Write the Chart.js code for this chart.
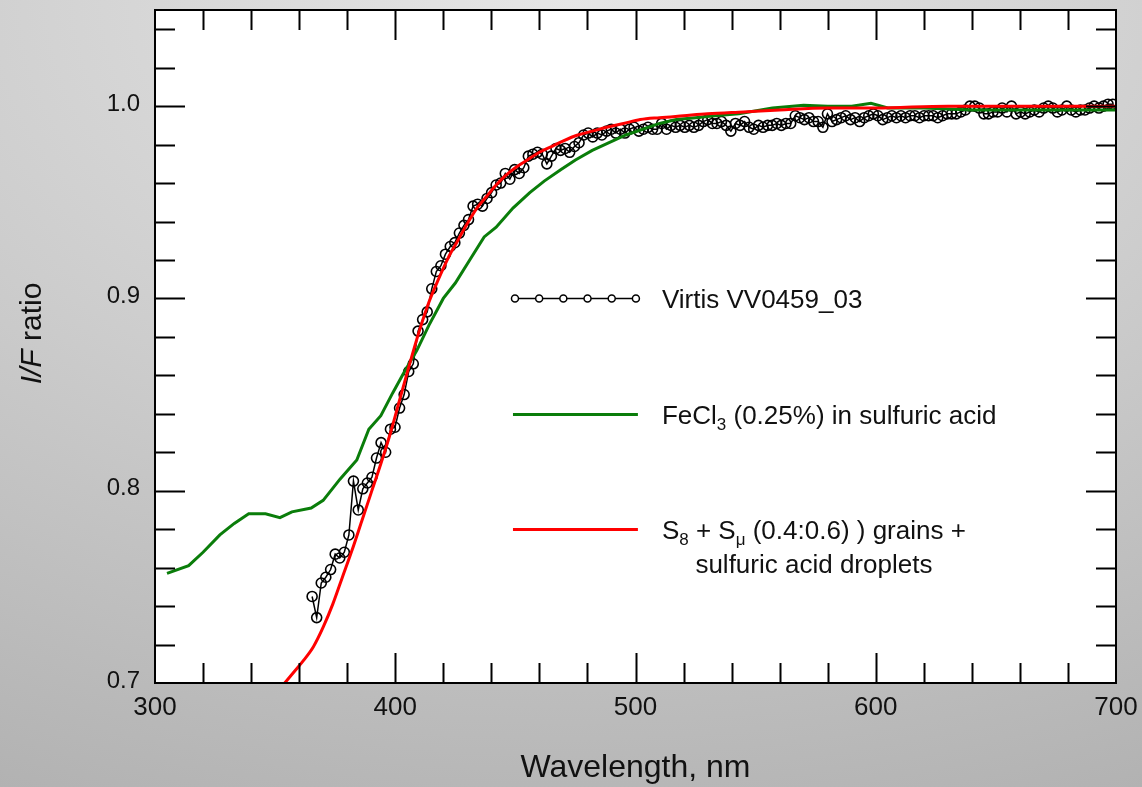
<!DOCTYPE html>
<html lang="en">
<head>
<meta charset="UTF-8">
<title>I/F ratio vs wavelength</title>
<script src="https://cdn.jsdelivr.net/npm/chart.js"></script>
<style>
  html, body {
    margin: 0;
    padding: 0;
    width: 1142px;
    height: 787px;
    overflow: hidden;
    background: radial-gradient(ellipse 120% 110% at 50% 0%, #e6e6e6 0%, #cdcdcd 50%, #b2b2b2 100%);
  }
  #chart { display: block; }
</style>
</head>
<body>
<canvas id="chart" width="1142" height="787"></canvas>
<script>
// Virtis VV0459_03 spectrum (nm, I/F ratio)
const virtisWl = [
  365.4, 367.3, 369.2, 371.1, 373.1, 375.0, 376.9, 378.8, 380.7, 382.6,
  384.6, 386.5, 388.4, 390.3, 392.2, 394.1, 396.0, 398.0, 399.9, 401.8,
  403.7, 405.6, 407.5, 409.5, 411.4, 413.3, 415.2, 417.1, 419.0, 420.9,
  422.9, 424.8, 426.7, 428.6, 430.5, 432.4, 434.3, 436.3, 438.2, 440.1,
  442.0, 443.9, 445.8, 447.7, 449.7, 451.6, 453.5, 455.4, 457.3, 459.2,
  461.2, 463.1, 465.0, 466.9, 468.8, 470.7, 472.6, 474.6, 476.5, 478.4,
  480.3, 482.2, 484.1, 486.0, 488.0, 489.9, 491.8, 493.7, 495.6, 497.5,
  499.4, 501.4, 503.3, 505.2, 507.1, 509.0, 510.9, 512.9, 514.8, 516.7,
  518.6, 520.5, 522.4, 524.3, 526.3, 528.2, 530.1, 532.0, 533.9, 535.8,
  537.7, 539.7, 541.6, 543.5, 545.4, 547.3, 549.2, 551.2, 553.1, 555.0,
  556.9, 558.8, 560.7, 562.6, 564.6, 566.5, 568.4, 570.3, 572.2, 574.1,
  576.0, 578.0, 579.9, 581.8, 583.7, 585.6, 587.5, 589.5, 591.4, 593.3,
  595.2, 597.1, 599.0, 600.9, 602.9, 604.8, 606.7, 608.6, 610.5, 612.4,
  614.3, 616.3, 618.2, 620.1, 622.0, 623.9, 625.8, 627.8, 629.7, 631.6,
  633.5, 635.4, 637.3, 639.2, 641.2, 643.1, 645.0, 646.9, 648.8, 650.7,
  652.6, 654.6, 656.5, 658.4, 660.3, 662.2, 664.1, 666.0, 668.0, 669.9,
  671.8, 673.7, 675.6, 677.5, 679.5, 681.4, 683.3, 685.2, 687.1, 689.0,
  690.9, 692.9, 694.8, 696.7, 698.6
];
const virtisIF = [
  0.745, 0.734, 0.752, 0.755, 0.759, 0.767, 0.765, 0.768, 0.777, 0.805,
  0.790, 0.801, 0.804, 0.807, 0.817, 0.825, 0.820, 0.832, 0.833, 0.843,
  0.850, 0.862, 0.866, 0.883, 0.889, 0.893, 0.905, 0.914, 0.917, 0.923,
  0.927, 0.929, 0.934, 0.938, 0.941, 0.948, 0.949, 0.948, 0.952, 0.955,
  0.959, 0.960, 0.965, 0.962, 0.967, 0.965, 0.968, 0.974, 0.975, 0.976,
  0.975, 0.970, 0.974, 0.978, 0.977, 0.978, 0.976, 0.979, 0.981, 0.985,
  0.986, 0.984, 0.986, 0.985, 0.987, 0.988, 0.986, 0.988, 0.986, 0.988,
  0.989, 0.987, 0.988, 0.989, 0.988, 0.988, 0.991, 0.988, 0.990, 0.989,
  0.990, 0.989, 0.990, 0.989, 0.990, 0.992, 0.993, 0.991, 0.991, 0.992,
  0.990, 0.987, 0.991, 0.990, 0.992, 0.989, 0.988, 0.990, 0.989, 0.990,
  0.990, 0.991, 0.990, 0.991, 0.991, 0.995, 0.994, 0.993, 0.994, 0.992,
  0.992, 0.989, 0.996, 0.992, 0.993, 0.994, 0.995, 0.993, 0.994, 0.992,
  0.994, 0.995, 0.996, 0.995, 0.993, 0.994, 0.995, 0.994, 0.995, 0.994,
  0.995, 0.995, 0.994, 0.995, 0.995, 0.995, 0.994, 0.995, 0.996, 0.996,
  0.996, 0.997, 0.998, 1.000, 1.000, 0.999, 0.996, 0.996, 0.997, 0.997,
  0.999, 0.997, 1.000, 0.996, 0.997, 0.996, 0.997, 0.998, 0.997, 0.999,
  1.000, 0.999, 0.997, 0.998, 1.000, 0.998, 0.997, 0.998, 0.998, 0.999,
  1.000, 0.999, 1.000, 1.001, 1.001
];

// FeCl3 (0.25%) in sulfuric acid
const fecl3Wl = [
  305, 314, 320, 327, 333, 339, 346, 352, 357, 365,
  370, 377, 384, 389, 394, 399, 403, 409, 414, 420,
  425, 431, 437, 442, 449, 456, 462, 469, 475, 482,
  489, 496, 503, 510, 517, 525, 533, 543, 557, 570,
  580, 590, 598, 605, 620, 640, 660, 680, 700
];
const fecl3IF = [
  0.757, 0.761, 0.768, 0.777, 0.783, 0.788, 0.788, 0.786, 0.789, 0.791,
  0.795, 0.806, 0.816, 0.832, 0.839, 0.851, 0.860, 0.873, 0.886, 0.900,
  0.908, 0.920, 0.932, 0.937, 0.947, 0.955, 0.961, 0.967, 0.972, 0.977,
  0.981, 0.985, 0.988, 0.991, 0.993, 0.994, 0.995, 0.996, 0.999, 1.0005,
  1.000, 1.000, 1.0015, 0.999, 0.999, 0.998, 0.998, 0.998, 0.998
];

// S8 + Smu (0.4:0.6) grains + sulfuric acid droplets
const sulfurWl = [
  354, 358, 362, 366, 370, 374, 378, 382, 386, 390,
  394, 398, 402, 406, 410, 414, 418, 422, 426, 430,
  434, 438, 442, 446, 450, 455, 460, 465, 470, 476,
  482, 488, 495, 502, 510, 520, 530, 545, 560, 580,
  600, 630, 660, 700
];
const sulfurIF = [
  0.700, 0.706, 0.712, 0.719, 0.729, 0.741, 0.755, 0.769, 0.784, 0.799,
  0.814, 0.830, 0.848, 0.866, 0.883, 0.898, 0.910, 0.921, 0.930, 0.939,
  0.947, 0.953, 0.959, 0.964, 0.968, 0.972, 0.976, 0.979, 0.982, 0.985,
  0.987, 0.989, 0.991, 0.993, 0.994, 0.995, 0.996, 0.997, 0.998, 0.999,
  0.999, 1.000, 1.000, 1.000
];

const xTickLabels = [300, 400, 500, 600, 700];
const yTickLabels = [0.7, 0.8, 0.9, 1.0];

const FONT = "'Liberation Sans', Arial, sans-serif";

function pairs(xs, ys) {
  return xs.map((x, i) => ({ x: x, y: ys[i] }));
}

// white plot area
const plotBackground = {
  id: 'plotBackground',
  beforeDraw(chart) {
    const { ctx, chartArea: a } = chart;
    ctx.save();
    ctx.fillStyle = '#ffffff';
    ctx.fillRect(a.left, a.top, a.right - a.left, a.bottom - a.top);
    ctx.restore();
  }
};

// box frame with inward ticks on all four sides, tick labels and axis titles
const frameTicks = {
  id: 'frameTicks',
  afterDraw(chart) {
    const { ctx, chartArea: a, scales } = chart;
    const xs = scales.x, ys = scales.y;
    ctx.save();
    ctx.strokeStyle = '#000';
    ctx.lineWidth = 2;
    ctx.beginPath();
    for (let v = 320; v < 700; v += 20) {
      const px = Math.round(xs.getPixelForValue(v)) + 0.5;
      const len = (v % 100 === 0) ? 30 : 20;
      ctx.moveTo(px, a.bottom); ctx.lineTo(px, a.bottom - len);
      ctx.moveTo(px, a.top); ctx.lineTo(px, a.top + len);
    }
    for (let k = 36; k <= 52; k++) {
      const py = Math.round(ys.getPixelForValue(k / 50)) + 0.5;
      const len = (k % 5 === 0) ? 30 : 20;
      ctx.moveTo(a.left, py); ctx.lineTo(a.left + len, py);
      ctx.moveTo(a.right, py); ctx.lineTo(a.right - len, py);
    }
    ctx.stroke();
    ctx.strokeRect(a.left, a.top, a.right - a.left, a.bottom - a.top);

    ctx.fillStyle = '#111';
    // tick labels
    ctx.font = '26px ' + FONT;
    ctx.textAlign = 'center';
    ctx.textBaseline = 'top';
    xTickLabels.forEach(v => ctx.fillText(String(v), xs.getPixelForValue(v), a.bottom + 12));
    ctx.font = '24px ' + FONT;
    ctx.textAlign = 'right';
    ctx.textBaseline = 'middle';
    yTickLabels.forEach(v => ctx.fillText(v.toFixed(1), a.left - 15, ys.getPixelForValue(v) - 2));

    // axis titles
    ctx.textAlign = 'center';
    ctx.textBaseline = 'alphabetic';
    ctx.font = '32px ' + FONT;
    ctx.fillText('Wavelength, nm', (a.left + a.right) / 2, 777);

    ctx.translate(41, (a.top + a.bottom) / 2 - 13);
    ctx.rotate(-Math.PI / 2);
    ctx.textAlign = 'left';
    const italicPart = 'I/F';
    const normalPart = ' ratio';
    ctx.font = 'italic 30px ' + FONT;
    const w1 = ctx.measureText(italicPart).width;
    ctx.font = '30px ' + FONT;
    const w2 = ctx.measureText(normalPart).width;
    const x0 = -(w1 + w2) / 2;
    ctx.font = 'italic 30px ' + FONT;
    ctx.fillText(italicPart, x0, 0);
    ctx.font = '30px ' + FONT;
    ctx.fillText(normalPart, x0 + w1, 0);
    ctx.restore();
  }
};

// draws a run of [text, isSubscript] parts, returns width
function drawRich(ctx, parts, x, y, measureOnly) {
  let cx = x;
  for (const [t, sub] of parts) {
    ctx.font = (sub ? '17px ' : '26px ') + FONT;
    if (!measureOnly) ctx.fillText(t, cx, sub ? y + 6 : y);
    cx += ctx.measureText(t).width;
  }
  return cx - x;
}

const legendEntries = [
  { y: 0.90, color: '#000', width: 1.5, marker: true,
    lines: [[['Virtis VV0459_03', false]]] },
  { y: 0.84, color: '#0a7d0a', width: 3, marker: false,
    lines: [[['FeCl', false], ['3', true], [' (0.25%) in sulfuric acid', false]]] },
  { y: 0.78, color: '#ff0000', width: 3, marker: false,
    lines: [[['S', false], ['8', true], [' + S', false], ['\u03bc', true], [' (0.4:0.6) ) grains +', false]],
            [['sulfuric acid droplets', false]]] }
];

const insideLegend = {
  id: 'insideLegend',
  afterDraw(chart) {
    const { ctx, scales } = chart;
    const xs = scales.x, ys = scales.y;
    const x0 = xs.getPixelForValue(449);
    const x1 = xs.getPixelForValue(501);
    const tx = xs.getPixelForValue(511);
    ctx.save();
    ctx.textAlign = 'left';
    ctx.textBaseline = 'alphabetic';
    ctx.fillStyle = '#111';
    for (const e of legendEntries) {
      const py = Math.round(ys.getPixelForValue(e.y)) + 0.5;
      ctx.strokeStyle = e.color;
      ctx.lineWidth = e.width;
      ctx.beginPath();
      ctx.moveTo(x0, py); ctx.lineTo(x1, py);
      ctx.stroke();
      if (e.marker) {
        ctx.lineWidth = 1.5;
        for (let i = 0; i < 6; i++) {
          const cx = x0 + 2 + i * (x1 - x0 - 4) / 5;
          ctx.beginPath();
          ctx.arc(cx, py, 3.5, 0, Math.PI * 2);
          ctx.fillStyle = '#fff';
          ctx.fill();
          ctx.stroke();
        }
        ctx.fillStyle = '#111';
      }
      const firstW = drawRich(ctx, e.lines[0], tx, 0, true);
      e.lines.forEach((ln, i) => {
        const w = drawRich(ctx, ln, 0, 0, true);
        const lx = i === 0 ? tx : tx + (firstW - w) / 2;
        drawRich(ctx, ln, lx, py + 9 + i * 34, false);
      });
    }
    ctx.restore();
  }
};

new Chart(document.getElementById('chart').getContext('2d'), {
  type: 'line',
  data: {
    datasets: [
      {
        label: 'Virtis VV0459_03',
        data: pairs(virtisWl, virtisIF),
        borderColor: '#000',
        borderWidth: 1.5,
        pointStyle: 'circle',
        pointRadius: 5,
        pointBorderWidth: 1.6,
        pointBorderColor: '#000',
        pointBackgroundColor: 'rgba(255,255,255,0)',
        tension: 0,
        order: 3
      },
      {
        label: 'FeCl3 (0.25%) in sulfuric acid',
        data: pairs(fecl3Wl, fecl3IF),
        borderColor: '#0a7d0a',
        borderWidth: 3,
        pointRadius: 0,
        tension: 0,
        order: 2
      },
      {
        label: 'S8 + Smu (0.4:0.6) ) grains + sulfuric acid droplets',
        data: pairs(sulfurWl, sulfurIF),
        borderColor: '#ff0000',
        borderWidth: 3,
        pointRadius: 0,
        cubicInterpolationMode: 'monotone',
        order: 1
      }
    ]
  },
  options: {
    responsive: false,
    animation: false,
    clip: true,
    layout: { padding: { top: 10, right: 26, left: 0, bottom: 0 } },
    plugins: {
      legend: { display: false },
      tooltip: { enabled: false }
    },
    scales: {
      x: {
        type: 'linear',
        min: 300,
        max: 700,
        afterFit(scale) { scale.height = 104; },
        grid: { display: false, drawTicks: false },
        border: { display: false },
        ticks: { display: false }
      },
      y: {
        type: 'linear',
        min: 0.7,
        max: 1.05,
        afterFit(scale) { scale.width = 155; },
        grid: { display: false, drawTicks: false },
        border: { display: false },
        ticks: { display: false }
      }
    }
  },
  plugins: [plotBackground, frameTicks, insideLegend]
});
</script>
</body>
</html>
